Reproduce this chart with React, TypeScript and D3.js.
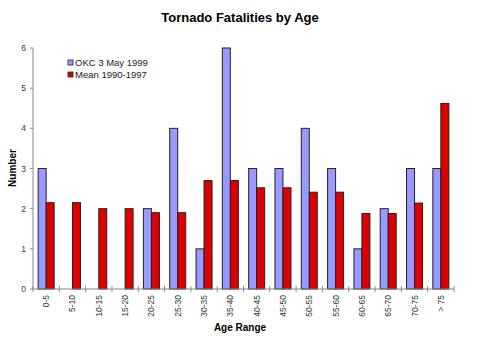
import React from "react";
import * as d3 from "d3";

const categories = ["0-5","5-10","10-15","15-20","20-25","25-30","30-35","35-40","40-45","45-50","50-55","55-60","60-65","65-70","70-75","> 75"];
const okc1999 = [3,0,0,0,2,4,1,6,3,3,4,3,1,2,3,3];
const mean19901997 = [2.15,2.15,2.0,2.0,1.9,1.9,2.7,2.7,2.52,2.52,2.41,2.41,1.88,1.88,2.14,4.62];
const yTicks = [0,1,2,3,4,5,6];
const seriesNames = ["OKC 3 May 1999","Mean 1990-1997"];
const colors = ["#9999ff","#dd0000"];

export default function App() {
  const W = 480, H = 360;
  const left = 33, right = 454, top = 48, bottom = 289;
  const x = d3.scaleBand<string>().domain(categories).range([left, right]).paddingInner(0).paddingOuter(0);
  const y = d3.scaleLinear().domain([0, 6]).range([bottom, top]);
  const bw = 8;
  const font = "Arial, 'Liberation Sans', sans-serif";
  const series = [okc1999, mean19901997];
  return (
    <svg width={W} height={H} style={{ position: "absolute", left: 0, top: 0, background: "#fff" }} fontFamily={font}>
      <text x={240} y={22} textAnchor="middle" fontSize={13} fontWeight="bold">Tornado Fatalities by Age</text>
      {categories.map((c, i) => (
        <g key={c}>
          {series.map((s, k) => s[i] > 0 ? (
            <rect key={k} x={(x(c) as number) + x.bandwidth() / 2 - bw + k * bw} y={y(s[i])} width={bw} height={bottom - y(s[i])}
              fill={colors[k]} stroke="#222" strokeWidth={1} />
          ) : null)}
        </g>
      ))}
      <line x1={left} x2={left} y1={top} y2={bottom} stroke="#888" />
      <line x1={left} x2={right} y1={bottom} y2={bottom} stroke="#888" />
      {yTicks.map(t => (
        <g key={t}>
          <line x1={left - 3} x2={left} y1={y(t)} y2={y(t)} stroke="#888" />
          <text x={left - 7} y={y(t) + 3} textAnchor="end" fontSize={8.5} fill="#333">{t}</text>
        </g>
      ))}
      {categories.concat(["end"]).map((c, i) => {
        const xx = left + i * x.bandwidth();
        return <line key={"t" + i} x1={xx} x2={xx} y1={bottom - 3} y2={bottom + 3} stroke="#888" />;
      })}
      {categories.map(c => {
        const cx = (x(c) as number) + x.bandwidth() / 2;
        return (
          <text key={"l" + c} transform={`translate(${cx + 3},${bottom + 6}) rotate(-90)`} textAnchor="end" fontSize={8.5} fill="#333">{c}</text>
        );
      })}
      <text x={240} y={331} textAnchor="middle" fontSize={10} fontWeight="bold">Age Range</text>
      <text transform={`translate(16,168) rotate(-90)`} textAnchor="middle" fontSize={10} fontWeight="bold">Number</text>
      {seriesNames.map((n, k) => (
        <g key={n}>
          <rect x={68} y={60 + k * 12} width={5} height={5} fill={colors[k]} stroke="#222" strokeWidth={0.8} />
          <text x={75} y={66 + k * 12} fontSize={9.5} fill="#222">{n}</text>
        </g>
      ))}
    </svg>
  );
}
